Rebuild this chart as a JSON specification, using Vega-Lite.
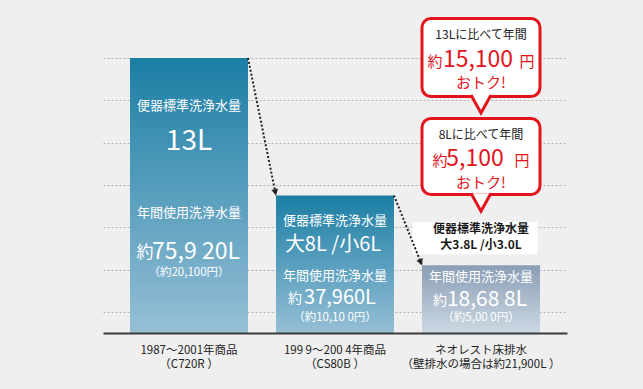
{
  "$schema": "https://vega.github.io/schema/vega-lite/v6.json",
  "width": 464,
  "height": 275,
  "autosize": "none",
  "padding": {"left": 103, "top": 58, "right": 76, "bottom": 56},
  "background": "#efefef",
  "config": {
    "view": {"stroke": null},
    "text": {"font": "Noto Sans CJK JP", "baseline": "middle", "align": "center"},
    "axis": {"titleColor": "transparent", "labels": false, "ticks": false},
    "axisX": {"grid": false},
    "axisY": {"domain": false, "gridDash": [2, 2], "gridColor": "#b3b3b3", "gridWidth": 1}
  },
  "datasets": {
    "bars": [
      {"cat": "A", "usage": 75920, "name1": "1987～2001年商品", "name2": "（C720R ）"},
      {"cat": "B", "usage": 37960, "name1": "199 9～200 4年商品", "name2": "（CS80B ）"},
      {"cat": "C", "usage": 18688, "name1": "ネオレスト床排水", "name2": "（壁排水の場合は約21,900L ）"}
    ],
    "arrows": [
      {"from": "A", "to": "B", "y1": 75920, "y2": 37960},
      {"from": "B", "to": "C", "y1": 37960, "y2": 18688}
    ],
    "one": [{}]
  },
  "layer": [
    {
      "data": {"name": "bars"},
      "transform": [{"filter": "datum.cat != 'C'"}],
      "mark": {"type": "bar", "color": {"gradient": "linear", "x1": 0, "y1": 0, "x2": 0, "y2": 1, "stops": [{"offset": 0, "color": "#1b7ea4"}, {"offset": 1, "color": "#96bfd6"}]}},
      "encoding": {
        "x": {"field": "cat", "type": "nominal", "scale": {"domain": ["A", "B", "C"], "paddingInner": 0.1918, "paddingOuter": 0.185}, "axis": {"zindex": 1, "domainColor": "#3a3a3a", "domainWidth": 2, "title": null}},
        "y": {"field": "usage", "type": "quantitative", "scale": {"domain": [0, 75920], "nice": false, "zero": true}, "axis": {"values": [5840, 11680, 17520, 23360, 29200, 35040, 40880, 46720, 52560, 58400, 64240, 70080, 75920], "grid": true, "title": null, "zindex": 0}}
      }
    },
    {
      "data": {"name": "bars"},
      "transform": [{"filter": "datum.cat == 'C'"}],
      "mark": {"type": "bar", "color": {"gradient": "linear", "x1": 0, "y1": 0, "x2": 0, "y2": 1, "stops": [{"offset": 0, "color": "#8b9db5"}, {"offset": 1, "color": "#cbd9e3"}]}},
      "encoding": {"x": {"field": "cat", "type": "nominal"}, "y": {"field": "usage", "type": "quantitative"}}
    },
    {
      "data": {"name": "one"},
      "mark": {"type": "bar", "color": "#ffffff", "width": 125, "xOffset": -6},
      "encoding": {"x": {"datum": "C"}, "y": {"datum": 30727}, "y2": {"datum": 21727}}
    },
    {"data": {"name": "one"}, "mark": {"type": "text", "text": "便器標準洗浄水量", "fontSize": 13, "color": "#ffffff"}, "encoding": {"x": {"datum": "A"}, "y": {"datum": 62668}}},
    {"data": {"name": "one"}, "mark": {"type": "text", "text": "13L", "fontSize": 28, "color": "#ffffff"}, "encoding": {"x": {"datum": "A"}, "y": {"datum": 52729}}},
    {"data": {"name": "one"}, "mark": {"type": "text", "text": "年間使用洗浄水量", "fontSize": 13, "color": "#ffffff"}, "encoding": {"x": {"datum": "A"}, "y": {"datum": 33128}}},
    {"data": {"name": "one"}, "mark": {"type": "text", "text": "約", "fontSize": 17, "color": "#ffffff", "dx": -44}, "encoding": {"x": {"datum": "A"}, "y": {"datum": 22086}}},
    {"data": {"name": "one"}, "mark": {"type": "text", "text": "75,9 20L", "fontSize": 23, "color": "#ffffff", "dx": 7}, "encoding": {"x": {"datum": "A"}, "y": {"datum": 22362}}},
    {"data": {"name": "one"}, "mark": {"type": "text", "text": "（約20,100円）", "fontSize": 11.5, "color": "#ffffff"}, "encoding": {"x": {"datum": "A"}, "y": {"datum": 16564}}},
    {"data": {"name": "one"}, "mark": {"type": "text", "text": "便器標準洗浄水量", "fontSize": 13, "color": "#ffffff"}, "encoding": {"x": {"datum": "B"}, "y": {"datum": 30920}}},
    {"data": {"name": "one"}, "mark": {"type": "text", "text": "大8L /小6L", "fontSize": 20, "color": "#ffffff", "dx": -2}, "encoding": {"x": {"datum": "B"}, "y": {"datum": 24294}}},
    {"data": {"name": "one"}, "mark": {"type": "text", "text": "年間使用洗浄水量", "fontSize": 13, "color": "#ffffff"}, "encoding": {"x": {"datum": "B"}, "y": {"datum": 15736}}},
    {"data": {"name": "one"}, "mark": {"type": "text", "text": "約", "fontSize": 14, "color": "#ffffff", "dx": -40}, "encoding": {"x": {"datum": "B"}, "y": {"datum": 9386}}},
    {"data": {"name": "one"}, "mark": {"type": "text", "text": "37,960L", "fontSize": 20, "color": "#ffffff", "dx": 5}, "encoding": {"x": {"datum": "B"}, "y": {"datum": 9662}}},
    {"data": {"name": "one"}, "mark": {"type": "text", "text": "（約10,10 0円）", "fontSize": 11.5, "color": "#ffffff"}, "encoding": {"x": {"datum": "B"}, "y": {"datum": 4141}}},
    {"data": {"name": "one"}, "mark": {"type": "text", "text": "便器標準洗浄水量", "fontSize": 12, "fontWeight": "bold", "color": "#1a1a1a"}, "encoding": {"x": {"datum": "C"}, "y": {"datum": 28711}}},
    {"data": {"name": "one"}, "mark": {"type": "text", "text": "大3.8L /小3.0L", "fontSize": 12, "fontWeight": "bold", "color": "#1a1a1a"}, "encoding": {"x": {"datum": "C"}, "y": {"datum": 24294}}},
    {"data": {"name": "one"}, "mark": {"type": "text", "text": "年間使用洗浄水量", "fontSize": 13, "color": "#ffffff"}, "encoding": {"x": {"datum": "C"}, "y": {"datum": 15460}}},
    {"data": {"name": "one"}, "mark": {"type": "text", "text": "約", "fontSize": 14, "color": "#ffffff", "dx": -41}, "encoding": {"x": {"datum": "C"}, "y": {"datum": 8834}}},
    {"data": {"name": "one"}, "mark": {"type": "text", "text": "18,68 8L", "fontSize": 21, "color": "#ffffff", "dx": 6}, "encoding": {"x": {"datum": "C"}, "y": {"datum": 9110}}},
    {"data": {"name": "one"}, "mark": {"type": "text", "text": "（約5,00 0円）", "fontSize": 11.5, "color": "#ffffff"}, "encoding": {"x": {"datum": "C"}, "y": {"datum": 4141}}},
    {
      "data": {"name": "arrows"},
      "mark": {"type": "rule", "color": "#222222", "strokeWidth": 2, "strokeDash": [2, 2]},
      "encoding": {
        "x": {"field": "from", "type": "nominal", "bandPosition": 1},
        "x2": {"field": "to", "bandPosition": 0},
        "y": {"field": "y1", "type": "quantitative"},
        "y2": {"field": "y2"}
      }
    },
    {
      "data": {"name": "arrows"},
      "transform": [{"filter": "datum.to == 'B'"}],
      "mark": {"type": "point", "shape": "M-0.85,-1.6L0,0L0.85,-1.6Z", "size": 64, "filled": true, "color": "#222222", "opacity": 1, "angle": 348.5},
      "encoding": {"x": {"field": "to", "type": "nominal", "bandPosition": 0}, "y": {"field": "y2", "type": "quantitative"}}
    },
    {
      "data": {"name": "arrows"},
      "transform": [{"filter": "datum.to == 'C'"}],
      "mark": {"type": "point", "shape": "M-0.85,-1.6L0,0L0.85,-1.6Z", "size": 64, "filled": true, "color": "#222222", "opacity": 1, "angle": 338},
      "encoding": {"x": {"field": "to", "type": "nominal", "bandPosition": 0}, "y": {"field": "y2", "type": "quantitative"}}
    },
    {
      "data": {"name": "one"},
      "mark": {"type": "bar", "fill": "#ffffff", "stroke": "#e3141b", "strokeWidth": 3, "cornerRadius": 9},
      "encoding": {"x": {"datum": "C"}, "y": {"datum": 86824}, "y2": {"datum": 65291}}
    },
    {
      "data": {"name": "one"},
      "mark": {"type": "bar", "fill": "#ffffff", "stroke": "#e3141b", "strokeWidth": 3, "cornerRadius": 9},
      "encoding": {"x": {"datum": "C"}, "y": {"datum": 59217}, "y2": {"datum": 38236}}
    },
    {
      "data": {"name": "one"},
      "mark": {"type": "point", "shape": "M-1,-0.9L0,0.9L1,-0.9Z", "size": 400, "filled": true, "color": "#ffffff", "opacity": 1},
      "encoding": {"x": {"datum": "C"}, "y": {"datum": 63220}}
    },
    {
      "data": {"name": "one"},
      "mark": {"type": "point", "shape": "M-1,-0.9L0,0.9L1,-0.9", "size": 400, "filled": false, "color": "#e3141b", "strokeWidth": 3, "opacity": 1},
      "encoding": {"x": {"datum": "C"}, "y": {"datum": 63220}}
    },
    {
      "data": {"name": "one"},
      "mark": {"type": "point", "shape": "M-1,-0.9L0,0.9L1,-0.9Z", "size": 400, "filled": true, "color": "#ffffff", "opacity": 1},
      "encoding": {"x": {"datum": "C"}, "y": {"datum": 36096}}
    },
    {
      "data": {"name": "one"},
      "mark": {"type": "point", "shape": "M-1,-0.9L0,0.9L1,-0.9", "size": 400, "filled": false, "color": "#e3141b", "strokeWidth": 3, "opacity": 1},
      "encoding": {"x": {"datum": "C"}, "y": {"datum": 36096}}
    },
    {"data": {"name": "one"}, "mark": {"type": "text", "text": "13Lに比べて年間", "fontSize": 12, "color": "#222222"}, "encoding": {"x": {"datum": "C"}, "y": {"datum": 82269}}},
    {"data": {"name": "one"}, "mark": {"type": "text", "text": "約", "fontSize": 15, "color": "#e3141b", "dx": -46}, "encoding": {"x": {"datum": "C"}, "y": {"datum": 74815}}},
    {"data": {"name": "one"}, "mark": {"type": "text", "text": "15,100", "fontSize": 23, "color": "#e3141b", "dx": -3}, "encoding": {"x": {"datum": "C"}, "y": {"datum": 75367}}},
    {"data": {"name": "one"}, "mark": {"type": "text", "text": "円", "fontSize": 15, "color": "#e3141b", "dx": 46}, "encoding": {"x": {"datum": "C"}, "y": {"datum": 74815}}},
    {"data": {"name": "one"}, "mark": {"type": "text", "text": "おトク!", "fontSize": 15, "color": "#e3141b"}, "encoding": {"x": {"datum": "C"}, "y": {"datum": 69018}}},
    {"data": {"name": "one"}, "mark": {"type": "text", "text": "8Lに比べて年間", "fontSize": 12, "color": "#222222"}, "encoding": {"x": {"datum": "C"}, "y": {"datum": 54662}}},
    {"data": {"name": "one"}, "mark": {"type": "text", "text": "約", "fontSize": 15, "color": "#e3141b", "dx": -41}, "encoding": {"x": {"datum": "C"}, "y": {"datum": 47484}}},
    {"data": {"name": "one"}, "mark": {"type": "text", "text": "5,100", "fontSize": 23, "color": "#e3141b", "dx": -6}, "encoding": {"x": {"datum": "C"}, "y": {"datum": 48036}}},
    {"data": {"name": "one"}, "mark": {"type": "text", "text": "円", "fontSize": 15, "color": "#e3141b", "dx": 41}, "encoding": {"x": {"datum": "C"}, "y": {"datum": 47484}}},
    {"data": {"name": "one"}, "mark": {"type": "text", "text": "おトク!", "fontSize": 15, "color": "#e3141b"}, "encoding": {"x": {"datum": "C"}, "y": {"datum": 41411}}},
    {
      "data": {"name": "bars"},
      "mark": {"type": "text", "fontSize": 11.5, "color": "#222222"},
      "encoding": {"x": {"field": "cat", "type": "nominal"}, "y": {"datum": -4969}, "text": {"field": "name1"}}
    },
    {
      "data": {"name": "bars"},
      "mark": {"type": "text", "fontSize": 11.5, "color": "#222222"},
      "encoding": {"x": {"field": "cat", "type": "nominal"}, "y": {"datum": -8834}, "text": {"field": "name2"}}
    }
  ]
}
